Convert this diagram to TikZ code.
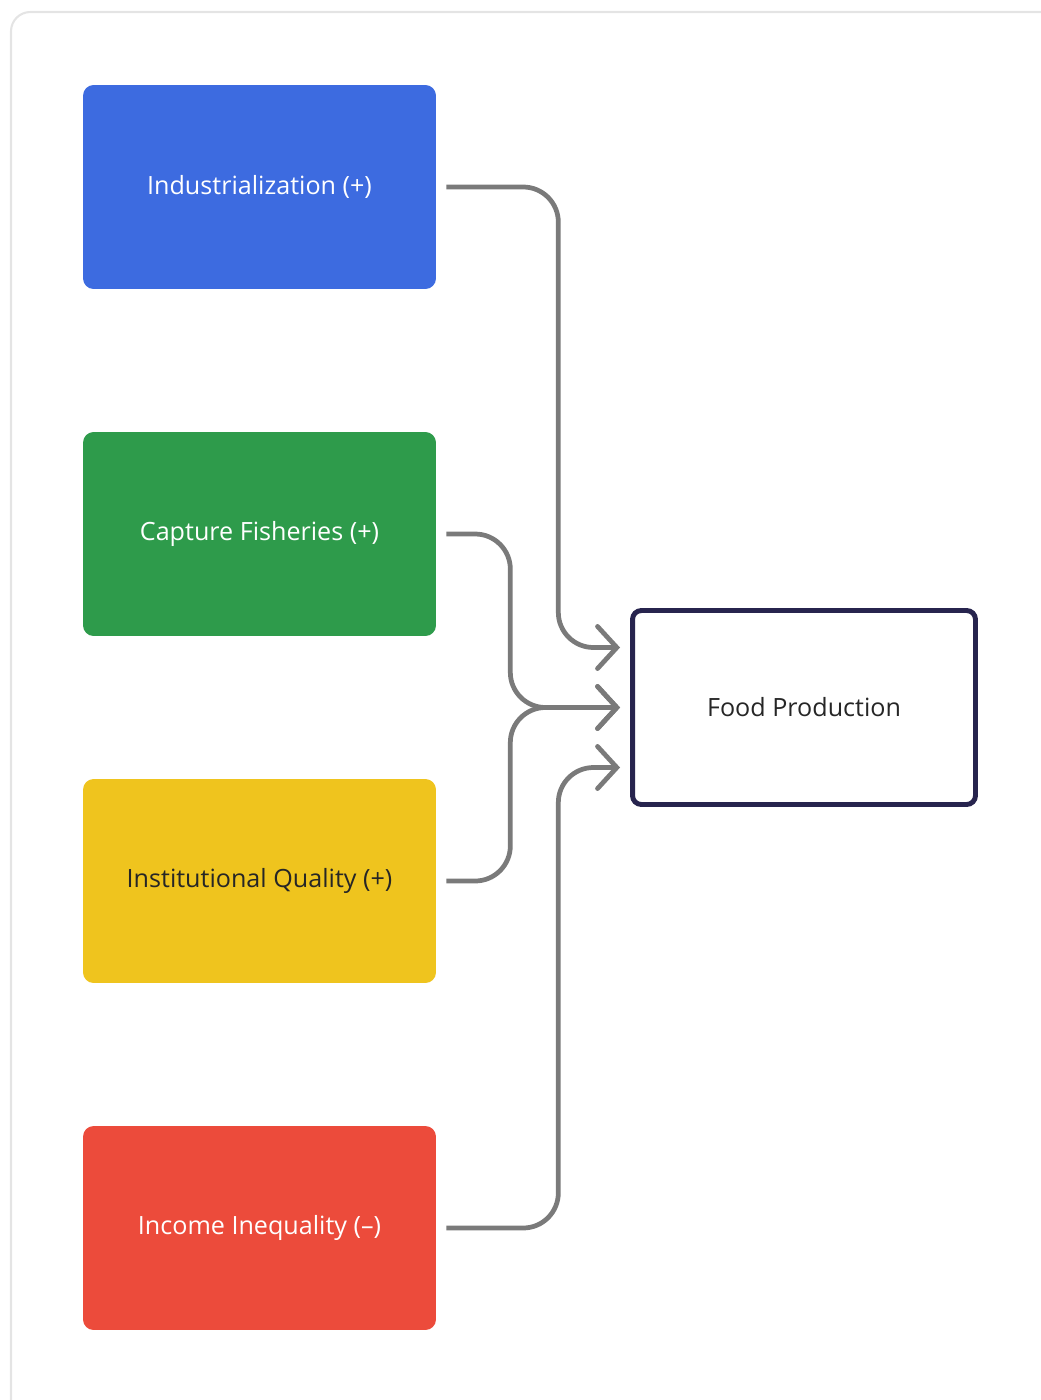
\documentclass[tikz,border=0pt]{standalone}
\usepackage{fontspec}
\setmainfont{Open Sans}
\usetikzlibrary{arrows.meta,positioning,calc}

\definecolor{indblue}{HTML}{3D6BE0}
\definecolor{capgreen}{HTML}{2E9B4B}
\definecolor{instyellow}{HTML}{EFC41E}
\definecolor{incred}{HTML}{EC4B3B}
\definecolor{foodnavy}{HTML}{27244E}
\definecolor{linkgray}{HTML}{7A7A7A}
\definecolor{framegray}{HTML}{E4E4E4}

\begin{document}
\begin{tikzpicture}[
    x=0.02cm, y=-0.02cm,
    factor/.style = {rectangle, minimum width=7.06cm, minimum height=4.08cm, rounded corners=6pt, text=white, font=\fontsize{14.3}{17}\selectfont},
    outcome/.style = {rectangle, draw=foodnavy, line width=2.8pt, fill=white, minimum width=6.86cm, minimum height=3.88cm, rounded corners=5pt, text=black!85, font=\fontsize{14.3}{17}\selectfont},
    link/.style = {-{Straight Barb[length=11pt, width=24pt, line cap=round]}, draw=linkgray, line width=2.7pt, rounded corners=20pt, shorten <=5.7pt, shorten >=5.7pt}
]
    \useasboundingbox (0,0) rectangle (1041,1400);
    \draw[framegray, line width=1.2pt, rounded corners=11pt] (11,12) rectangle (1070,1430);

    \node[factor, fill=indblue] (ind) at (259.5,187) {Industrialization (+)};
    \node[factor, fill=capgreen] (cap) at (259.5,534) {Capture Fisheries (+)};
    \node[factor, fill=instyellow, text=black!85] (inst) at (259.5,881) {Institutional Quality (+)};
    \node[factor, fill=incred] (inc) at (259.5,1228) {Income Inequality (--)};
    \node[outcome] (food) at (804,707.5) {Food Production};

    \draw[link] (ind.east) -- ++(122,0) |- ($(food.west)+(0,-60)$);
    \draw[link] (cap.east) -- ++(74,0) |- (food.west);
    \draw[link] (inst.east) -- ++(74,0) |- (food.west);
    \draw[link] (inc.east) -- ++(122,0) |- ($(food.west)+(0,60)$);
\end{tikzpicture}
\end{document}
